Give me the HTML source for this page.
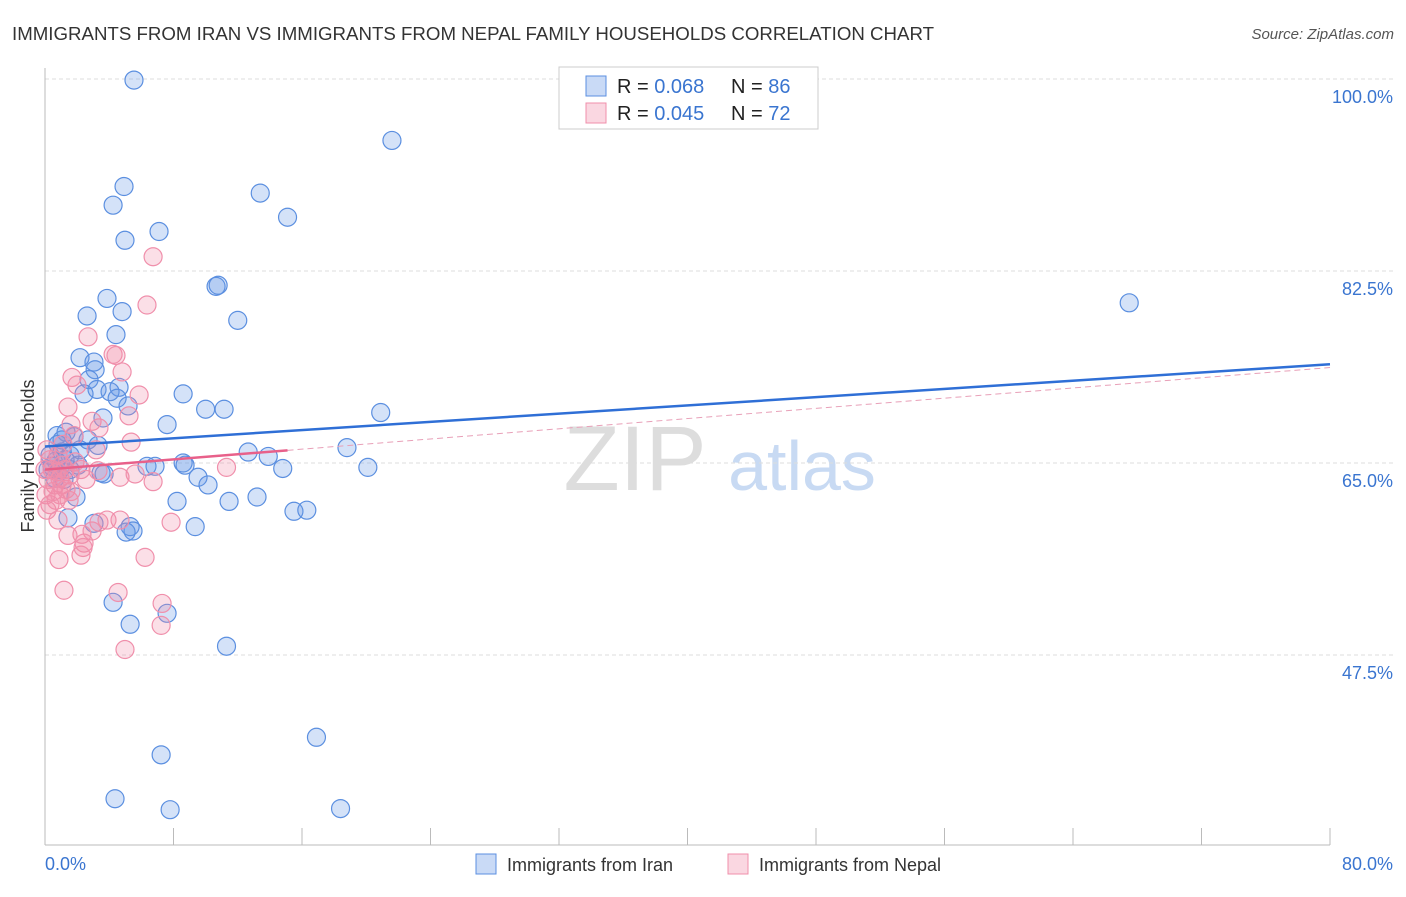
<!DOCTYPE html>
<html><head><meta charset="utf-8"><style>
body{margin:0;background:#fff;font-family:"Liberation Sans",sans-serif;}
svg text{font-family:"Liberation Sans",sans-serif;}
</style></head><body>
<svg width="1406" height="892">
<text x="12" y="40" font-size="18" fill="#333" textLength="922" lengthAdjust="spacingAndGlyphs">IMMIGRANTS FROM IRAN VS IMMIGRANTS FROM NEPAL FAMILY HOUSEHOLDS CORRELATION CHART</text>
<text x="1394" y="39" font-size="15" fill="#555" font-style="italic" text-anchor="end">Source: ZipAtlas.com</text>
<g><text x="635" y="490" font-size="92" fill="#ddd" text-anchor="middle" font-family="Liberation Serif">ZIP</text><text x="802" y="490" font-size="70" fill="#c8daf3" text-anchor="middle">atlas</text></g>
<g id="grid"></g>
<line x1="45" y1="68" x2="45" y2="845" stroke="#bbb"/>
<line x1="45" y1="845" x2="1330" y2="845" stroke="#bbb"/>
<text transform="translate(34,456) rotate(-90)" font-size="18" fill="#333" text-anchor="middle">Family Households</text>
<text x="45" y="870" font-size="18" fill="#3a75d0">0.0%</text>
<text x="1393" y="870" font-size="18" fill="#3a75d0" text-anchor="end">80.0%</text>
<g id="marks"></g>
<g>
<rect x="559" y="67" width="259" height="62" fill="#fff" stroke="#ccc"/>
<rect x="586" y="76" width="20" height="20" fill="rgba(100,150,230,0.35)" stroke="#5b8fe0"/>
<text x="617" y="93" font-size="20" fill="#222">R = <tspan fill="#3a75d0">0.068</tspan></text>
<text x="731" y="93" font-size="20" fill="#222">N = <tspan fill="#3a75d0">86</tspan></text>
<rect x="586" y="103" width="20" height="20" fill="rgba(240,140,170,0.35)" stroke="#f08fab"/>
<text x="617" y="120" font-size="20" fill="#222">R = <tspan fill="#3a75d0">0.045</tspan></text>
<text x="731" y="120" font-size="20" fill="#222">N = <tspan fill="#3a75d0">72</tspan></text>
</g>
<g><rect x="476" y="854" width="20" height="20" fill="rgba(100,150,230,0.35)" stroke="#5b8fe0"/><text x="507" y="871" font-size="18" fill="#333">Immigrants from Iran</text></g>
<g><rect x="728" y="854" width="20" height="20" fill="rgba(240,140,170,0.35)" stroke="#f08fab"/><text x="759" y="871" font-size="18" fill="#333">Immigrants from Nepal</text></g>
</svg>
<script>
const yTicks=[47.5,65.0,82.5,100.0];
const xTicks=[0,8,16,24,32,40,48,56,64,72,80];
const iranX=[5.54,21.6,4.92,4.24,13.4,15.1,4.98,7.10,10.65,10.78,3.86,12.0,2.62,4.80,4.42,2.18,3.05,3.12,2.74,4.61,3.24,4.05,2.43,4.49,8.60,5.17,10.0,11.15,20.9,3.61,7.60,1.31,0.75,1.81,2.68,3.30,18.8,12.65,13.9,1.06,1.56,0.69,8.60,8.72,6.35,6.85,14.8,20.1,3.49,3.68,9.53,10.15,1.93,8.22,11.46,13.2,15.5,16.3,9.35,3.05,5.30,5.48,5.05,1.43,4.24,5.30,7.60,11.3,16.9,7.23,4.36,7.79,18.4,67.5,0.44,0.93,0.62,1.18,0.31,1.56,2.06,1.25,0.81,1.06,0.19,2.18];
const iranY=[99.9,94.4,90.2,88.5,89.6,87.4,85.3,86.1,81.1,81.2,80.0,78.0,78.4,78.8,76.7,74.6,74.2,73.5,72.6,71.9,71.7,71.5,71.3,70.9,71.3,70.2,69.9,69.9,69.6,69.1,68.5,67.8,67.5,67.4,67.1,66.6,66.4,66.0,65.6,66.0,65.7,65.2,65.0,64.8,64.7,64.7,64.5,64.6,64.1,64.0,63.7,63.0,61.9,61.5,61.5,61.9,60.6,60.7,59.2,59.5,59.2,58.8,58.7,60.0,52.3,50.3,51.3,48.3,40.0,38.4,34.4,33.4,33.5,79.6,64.7,64.4,63.6,63.5,65.7,64.4,64.8,65.3,66.7,67.1,64.4,66.2];
const nepalX=[6.73,6.35,2.68,4.24,4.42,1.68,4.80,5.86,1.99,1.43,5.23,2.93,1.62,3.36,1.81,5.36,1.12,3.18,11.3,4.67,6.73,5.61,2.24,3.30,0.75,2.55,1.31,1.62,0.69,0.12,1.50,0.81,3.86,4.67,3.36,2.30,1.43,2.93,2.43,2.37,2.24,6.23,0.87,1.18,4.55,7.29,7.23,4.98,7.85,0.12,0.31,0.44,0.19,0.62,0.93,1.06,1.25,0.06,0.31,0.81,0.0,0.50,1.87,1.56,1.06,0.93];
const nepalY=[83.8,79.4,76.5,74.9,74.8,72.8,73.3,71.2,72.1,70.1,69.3,68.8,68.5,68.2,67.5,66.9,66.7,66.2,64.6,63.7,63.3,64.0,64.4,64.3,64.2,63.5,62.6,62.4,61.6,60.7,61.6,59.8,59.8,59.8,59.6,58.5,58.4,58.8,57.7,57.3,56.6,56.4,56.2,53.4,53.2,52.2,50.2,48.0,59.6,66.2,65.3,64.4,63.5,63.0,63.6,64.8,64.4,62.1,61.2,65.7,64.4,62.4,65.1,63.9,63.0,62.1];
const iranTrend=[66.5,74.0];
const nepalTrend=[64.4,73.7];
const nepalSolidEnd=15.1;
const NS='http://www.w3.org/2000/svg';
const X=v=>45+v/80*1285;
const Y=v=>79+(100-v)/17.5*192;
function mk(t,a,p){const e=document.createElementNS(NS,t);for(const k in a)e.setAttribute(k,a[k]);p.appendChild(e);return e;}
const grid=document.getElementById('grid'),marks=document.getElementById('marks');
yTicks.forEach(t=>{
 const l=mk('line',{x1:45,x2:1393,y1:Y(t),y2:Y(t),stroke:'#ddd','stroke-dasharray':'4,3'},grid);
 
 
 const tx=mk('text',{x:1393,y:Y(t)+24,'font-size':18,fill:'#3a75d0','text-anchor':'end'},grid);
 tx.textContent=t.toFixed(1)+'%';
 
 
});
xTicks.forEach(t=>{
 const l=mk('line',{x1:X(t),x2:X(t),y1:828,y2:845,stroke:'#bbb'},grid);
 
 
});
iranX.forEach((v,i)=>{
 const c=mk('circle',{cx:X(v),cy:Y(iranY[i]),r:9,fill:'rgba(100,150,230,0.28)',stroke:'#5b8fe0','stroke-width':1.2},marks);
 
 
});
nepalX.forEach((v,i)=>{
 const c=mk('circle',{cx:X(v),cy:Y(nepalY[i]),r:9,fill:'rgba(240,140,170,0.28)',stroke:'#f08fab','stroke-width':1.2},marks);
 
 
});
const bl=mk('line',{x1:X(0),y1:Y(iranTrend[0]),x2:X(80),y2:Y(iranTrend[1]),stroke:'#2f6fd6','stroke-width':2.5},marks);


const pAt=v=>nepalTrend[0]+(nepalTrend[1]-nepalTrend[0])*v/80;
const pl=mk('line',{x1:X(0),y1:Y(pAt(0)),x2:X(nepalSolidEnd),y2:Y(pAt(nepalSolidEnd)),stroke:'#e8608a','stroke-width':2.5},marks);


const pd=mk('line',{x1:X(nepalSolidEnd),y1:Y(pAt(nepalSolidEnd)),x2:X(80),y2:Y(pAt(80)),stroke:'#e8a0b8','stroke-width':1,'stroke-dasharray':'6,4'},marks);


</script>
</body></html>
